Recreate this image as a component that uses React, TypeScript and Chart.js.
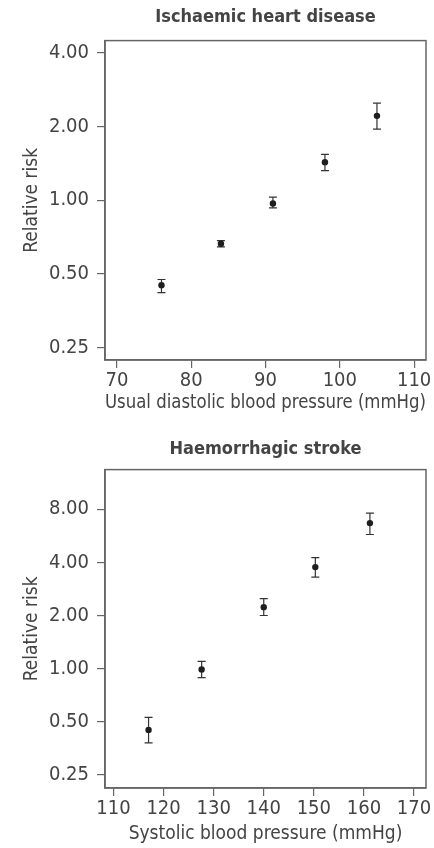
import React, { useEffect, useRef } from "react";
import { Chart, registerables } from "chart.js";

Chart.register(...registerables);

// ---- Ischaemic heart disease ----
const ihdTitle = "Ischaemic heart disease";
const ihdXLabel = "Usual diastolic blood pressure (mmHg)";
const ihdX = [76, 84, 91, 98, 105];
const ihdRR = [0.45, 0.665, 0.97, 1.43, 2.21];
const ihdLo = [0.42, 0.645, 0.93, 1.32, 1.95];
const ihdHi = [0.475, 0.685, 1.03, 1.54, 2.49];
const ihdXTicks = [70, 80, 90, 100, 110];
const ihdYTicks = [0.25, 0.5, 1, 2, 4];

// ---- Haemorrhagic stroke ----
const hsTitle = "Haemorrhagic stroke";
const hsXLabel = "Systolic blood pressure (mmHg)";
const hsX = [117, 127.6, 140, 150.3, 161.2];
const hsRR = [0.45, 0.99, 2.23, 3.76, 6.67];
const hsLo = [0.38, 0.89, 2.0, 3.3, 5.75];
const hsHi = [0.53, 1.1, 2.49, 4.25, 7.6];
const hsXTicks = [110, 120, 130, 140, 150, 160, 170];
const hsYTicks = [0.25, 0.5, 1, 2, 4, 8];

const yLabel = "Relative risk";
const FONT = "'DejaVu Sans Condensed', 'Liberation Sans Narrow', sans-serif";
const TEXT = "#444";
const AXIS = "#666";

const boxPlugin = {
  id: "boxPlugin",
  afterDraw(chart: any) {
    const { ctx, chartArea } = chart;
    ctx.save();
    ctx.strokeStyle = AXIS;
    ctx.lineWidth = 1.5;
    ctx.strokeRect(chartArea.left, chartArea.top, chartArea.right - chartArea.left, chartArea.bottom - chartArea.top);
    ctx.restore();
  },
};

type PanelProps = {
  title: string;
  xLabel: string;
  xs: number[];
  rr: number[];
  lo: number[];
  hi: number[];
  xTicks: number[];
  yTicks: number[];
  xMin: number;
  xMax: number;
  yMin: number;
  yMax: number;
  height: number;
  titlePadTop: number;
  titlePadBottom: number;
  xAxisHeight: number;
  xTitlePadBottom: number;
  xTitleSize: number;
};

function Panel(p: PanelProps) {
  const ref = useRef<HTMLCanvasElement | null>(null);
  useEffect(() => {
    if (!ref.current) return;
    const errData: any[] = [];
    p.xs.forEach((x, i) => {
      errData.push({ x, y: p.lo[i] });
      errData.push({ x, y: p.hi[i] });
      errData.push({ x, y: null });
    });
    const chart = new Chart(ref.current, {
      type: "scatter",
      data: {
        datasets: [
          {
            type: "line",
            data: errData,
            showLine: true,
            spanGaps: false,
            borderColor: "#333",
            borderWidth: 1.2,
            pointStyle: "line",
            pointRadius: 4,
            pointBorderColor: "#333",
            pointBorderWidth: 1.2,
            pointBackgroundColor: "#333",
            order: 2,
          } as any,
          {
            type: "scatter",
            data: p.xs.map((x, i) => ({ x, y: p.rr[i] })),
            pointRadius: 3.2,
            pointBackgroundColor: "#1e1e1e",
            pointBorderWidth: 0,
            order: 1,
          } as any,
        ],
      },
      options: {
        responsive: false,
        animation: false,
        layout: { padding: { left: 0, right: 8, top: 0, bottom: 0 } },
        plugins: {
          legend: { display: false },
          tooltip: { enabled: false },
          title: {
            display: true,
            fullSize: false,
            text: p.title,
            color: TEXT,
            font: { family: FONT, size: 18, weight: "bold" },
            padding: { top: p.titlePadTop, bottom: p.titlePadBottom },
          },
        },
        scales: {
          x: {
            type: "linear",
            min: p.xMin,
            max: p.xMax,
            afterBuildTicks: (s: any) => {
              s.ticks = p.xTicks.map((v) => ({ value: v }));
            },
            afterFit: (s: any) => {
              s.height = p.xAxisHeight;
            },
            grid: { drawOnChartArea: false, tickLength: 8, color: AXIS, lineWidth: 1.2 },
            border: { display: true, color: AXIS, width: 1.5 },
            ticks: {
              autoSkip: false,
              maxRotation: 0,
              padding: 1,
              color: TEXT,
              font: { family: FONT, size: 20 },
              callback: (v: any) => String(v),
            },
            title: {
              display: true,
              text: p.xLabel,
              color: TEXT,
              font: { family: FONT, size: p.xTitleSize },
              padding: { top: 0, bottom: p.xTitlePadBottom },
            },
          },
          y: {
            type: "logarithmic",
            min: p.yMin,
            max: p.yMax,
            afterBuildTicks: (s: any) => {
              s.ticks = p.yTicks.map((v) => ({ value: v }));
            },
            afterFit: (s: any) => {
              s.width = 105;
            },
            grid: { drawOnChartArea: false, tickLength: 8, color: AXIS, lineWidth: 1.2 },
            border: { display: true, color: AXIS, width: 1.5 },
            ticks: {
              autoSkip: false,
              padding: 8,
              color: TEXT,
              font: { family: FONT, size: 20 },
              callback: (v: any) => Number(v).toFixed(2),
            },
            title: {
              display: true,
              text: yLabel,
              color: TEXT,
              font: { family: FONT, size: 19 },
              padding: { top: 21, bottom: 0 },
            },
          },
        },
      },
      plugins: [boxPlugin],
    } as any);
    return () => chart.destroy();
  }, []);
  return <canvas ref={ref} width={434} height={p.height} style={{ display: "block" }} />;
}

export default function App() {
  return (
    <div style={{ position: "absolute", left: 0, top: 0, width: 434, height: 848, background: "#fff" }}>
      <Panel
        title={ihdTitle}
        xLabel={ihdXLabel}
        xs={ihdX}
        rr={ihdRR}
        lo={ihdLo}
        hi={ihdHi}
        xTicks={ihdXTicks}
        yTicks={ihdYTicks}
        xMin={68.4}
        xMax={111.6}
        yMin={0.223}
        yMax={4.48}
        height={420}
        titlePadTop={7}
        titlePadBottom={12}
        xAxisHeight={60}
        xTitlePadBottom={5}
        xTitleSize={20}
      />
      <Panel
        title={hsTitle}
        xLabel={hsXLabel}
        xs={hsX}
        rr={hsRR}
        lo={hsLo}
        hi={hsHi}
        xTicks={hsXTicks}
        yTicks={hsYTicks}
        xMin={108.3}
        xMax={172.4}
        yMin={0.211}
        yMax={13.4}
        height={428}
        titlePadTop={19}
        titlePadBottom={9}
        xAxisHeight={60}
        xTitlePadBottom={3}
        xTitleSize={19}
      />
    </div>
  );
}
